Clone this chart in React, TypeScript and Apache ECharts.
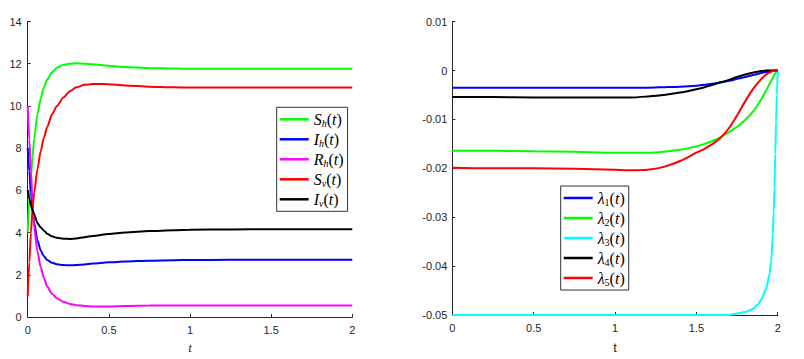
import React, { useEffect, useRef } from "react";
import * as echarts from "echarts";

// ---- Left panel: state variables ----
const tLeft = [0, 0.01, 0.02, 0.03, 0.04, 0.06, 0.08, 0.1, 0.12, 0.15, 0.18, 0.22, 0.26, 0.3, 0.35, 0.4, 0.5, 0.6, 0.75, 0.9, 1.0, 1.25, 1.5, 1.75, 2.0];
const Sh = [4, 5.6, 6.6, 7.6, 8.45, 9.6, 10.35, 10.9, 11.25, 11.6, 11.82, 11.95, 12.0, 12.02, 12.0, 11.97, 11.9, 11.84, 11.79, 11.77, 11.76, 11.76, 11.76, 11.76, 11.76];
const Ih = [8, 6.9, 5.9, 5.05, 4.45, 3.65, 3.15, 2.88, 2.7, 2.57, 2.5, 2.46, 2.45, 2.46, 2.49, 2.53, 2.59, 2.63, 2.67, 2.69, 2.7, 2.71, 2.71, 2.71, 2.71];
const Rh = [10, 8.4, 6.9, 5.4, 4.24, 3.1, 2.37, 1.85, 1.44, 1.1, 0.89, 0.72, 0.62, 0.56, 0.52, 0.5, 0.5, 0.52, 0.54, 0.55, 0.55, 0.55, 0.55, 0.55, 0.55];
const Sv = [1, 2.6, 4.0, 5.15, 5.9, 7.0, 7.85, 8.5, 9.0, 9.6, 10.0, 10.4, 10.7, 10.88, 11.0, 11.04, 11.03, 10.97, 10.91, 10.88, 10.87, 10.87, 10.87, 10.87, 10.87];
const Iv = [6, 5.6, 5.3, 5.05, 4.87, 4.45, 4.25, 4.09, 3.95, 3.82, 3.75, 3.71, 3.7, 3.72, 3.78, 3.84, 3.93, 4.0, 4.07, 4.11, 4.13, 4.15, 4.16, 4.16, 4.16];

// ---- Right panel: adjoint variables ----
const tRight = [0, 0.25, 0.5, 0.75, 1.0, 1.1, 1.2, 1.3, 1.4, 1.5, 1.55, 1.6, 1.65, 1.7, 1.75, 1.8, 1.85, 1.9, 1.93, 1.96, 1.98, 1.99, 2.0];
const L1 = [-0.0035, -0.0035, -0.0035, -0.0035, -0.0035, -0.0035, -0.0035, -0.0034, -0.0033, -0.0031, -0.0029, -0.0027, -0.0024, -0.0021, -0.0017, -0.0013, -0.0009, -0.0005, -0.0003, -0.0001, 0, 0, 0];
const L2 = [-0.0164, -0.0164, -0.0165, -0.0166, -0.0168, -0.0168, -0.0168, -0.0166, -0.0162, -0.0155, -0.015, -0.0144, -0.0136, -0.0126, -0.0115, -0.0101, -0.0083, -0.0058, -0.004, -0.0021, -0.0008, -0.0003, 0];
const L4 = [-0.0054, -0.0054, -0.0055, -0.0055, -0.0055, -0.0055, -0.0053, -0.005, -0.0045, -0.0038, -0.0034, -0.0029, -0.0024, -0.0019, -0.0013, -0.0008, -0.0004, -0.0001, 0, 0, 0, 0, 0];
const L5 = [-0.0199, -0.02, -0.02, -0.0201, -0.0203, -0.0204, -0.0203, -0.0197, -0.0185, -0.0168, -0.016, -0.015, -0.0137, -0.0118, -0.0092, -0.0063, -0.0037, -0.0017, -0.0008, -0.0002, 0, 0, 0];
const tCyan = [0, 0.5, 1.0, 1.5, 1.7, 1.75, 1.8, 1.85, 1.88, 1.9, 1.93, 1.95, 1.96, 1.97, 1.975, 1.98, 1.985, 1.99, 1.995, 2.0];
const L3 = [-0.05, -0.05, -0.05, -0.05, -0.05, -0.0497, -0.0494, -0.0487, -0.0478, -0.0468, -0.0445, -0.0415, -0.039, -0.0335, -0.029, -0.024, -0.017, -0.0105, -0.005, 0];

const zip = (t: number[], v: number[]) => t.map((x, i) => [x, v[i]]);

const legendLabels: Record<string, string> = {
  Sh: "{m|S}{s|h}{p|(}{m|t}{p|)}",
  Ih: "{m|I}{s|h}{p|(}{m|t}{p|)}",
  Rh: "{m|R}{s|h}{p|(}{m|t}{p|)}",
  Sv: "{m|S}{s|v}{p|(}{m|t}{p|)}",
  Iv: "{m|I}{s|v}{p|(}{m|t}{p|)}",
  L1: "{m|λ}{d|1}{p|(}{m|t}{p|)}",
  L2: "{m|λ}{d|2}{p|(}{m|t}{p|)}",
  L3: "{m|λ}{d|3}{p|(}{m|t}{p|)}",
  L4: "{m|λ}{d|4}{p|(}{m|t}{p|)}",
  L5: "{m|λ}{d|5}{p|(}{m|t}{p|)}",
};

const serif = "Liberation Serif, DejaVu Serif, serif";
const sans = "Liberation Sans, Arial, sans-serif";
const axisColor = "#262626";

const richText = {
  m: { fontFamily: serif, fontStyle: "italic", fontSize: 16, lineHeight: 18, color: "#000" },
  p: { fontFamily: serif, fontSize: 16, lineHeight: 18, color: "#000" },
  s: { fontFamily: serif, fontStyle: "italic", fontSize: 10, lineHeight: 18, verticalAlign: "bottom", padding: [6, 0, 0, 0], color: "#000" },
  d: { fontFamily: serif, fontSize: 10, lineHeight: 18, verticalAlign: "bottom", padding: [6, 0, 0, 0], color: "#000" },
};

function makeLegend(data: string[], left: number, top: number) {
  return {
    data,
    orient: "vertical",
    left,
    top,
    icon: "rect",
    itemWidth: 29,
    itemHeight: 2.5,
    itemGap: 2,
    padding: [3, 4, 3, 3],
    borderColor: "#333",
    borderWidth: 1,
    backgroundColor: "#fff",
    selectedMode: false,
    formatter: (name: string) => legendLabels[name],
    textStyle: { rich: richText, lineHeight: 18, fontFamily: serif },
  };
}

function axisCommon() {
  return {
    axisLine: { show: true, onZero: false, lineStyle: { color: axisColor, width: 1 } },
    axisTick: { show: true, inside: true, length: 3, lineStyle: { color: axisColor } },
    splitLine: { show: false },
  };
}

export default function App() {
  const ref = useRef<HTMLDivElement>(null);
  useEffect(() => {
    if (!ref.current) return;
    const chart = echarts.init(ref.current, undefined, { renderer: "svg" });
    const line = (name: string, data: number[][], color: string, xi: number, mono: boolean) => ({
      name,
      type: "line",
      xAxisIndex: xi,
      yAxisIndex: xi,
      data,
      showSymbol: false,
      symbol: "none",
      smooth: 0.25,
      ...(mono ? { smoothMonotone: "x" } : {}),
      lineStyle: { color, width: 2 },
      itemStyle: { color },
      emphasis: { disabled: true },
    });
    chart.setOption({
      animation: false,
      backgroundColor: "#fff",
      grid: [
        { left: 27.7, top: 21.5, width: 324.6, height: 299.2 },
        { left: 452.3, top: 21.7, width: 325.4, height: 299 },
      ],
      xAxis: [
        {
          ...axisCommon(),
          type: "value",
          gridIndex: 0,
          min: 0,
          max: 2,
          interval: 0.5,
          name: "t",
          nameLocation: "middle",
          nameGap: 24,
          nameTextStyle: { fontFamily: serif, fontStyle: "italic", fontSize: 13, color: axisColor },
          axisLabel: { color: axisColor, fontFamily: sans, fontSize: 11, margin: 7 },
        },
        {
          ...axisCommon(),
          type: "value",
          gridIndex: 1,
          min: 0,
          max: 2,
          interval: 0.5,
          name: "t",
          nameLocation: "middle",
          nameGap: 26,
          nameTextStyle: { fontFamily: sans, fontSize: 13, color: axisColor },
          axisLabel: { color: axisColor, fontFamily: sans, fontSize: 11, margin: 7 },
        },
      ],
      yAxis: [
        {
          ...axisCommon(),
          type: "value",
          gridIndex: 0,
          min: 0,
          max: 14,
          interval: 2,
          axisLabel: { color: axisColor, fontFamily: sans, fontSize: 11, margin: 6 },
        },
        {
          ...axisCommon(),
          type: "value",
          gridIndex: 1,
          min: -0.05,
          max: 0.01,
          interval: 0.01,
          axisLabel: {
            color: axisColor,
            fontFamily: sans,
            fontSize: 11,
            margin: 5,
            formatter: (v: number) => {
              const r = Math.round(v * 100) / 100;
              return r === 0 ? "0" : r.toFixed(2);
            },
          },
        },
      ],
      legend: [
        makeLegend(["Sh", "Ih", "Rh", "Sv", "Iv"], 276.7, 107.3),
        makeLegend(["L1", "L2", "L3", "L4", "L5"], 560.7, 186),
      ],
      series: [
        line("Sh", zip(tLeft, Sh), "#00ff00", 0, true),
        line("Ih", zip(tLeft, Ih), "#0000ff", 0, true),
        line("Rh", zip(tLeft, Rh), "#ff00ff", 0, true),
        line("Sv", zip(tLeft, Sv), "#ff0000", 0, true),
        line("Iv", zip(tLeft, Iv), "#000000", 0, true),
        line("L1", zip(tRight, L1), "#0000ff", 1, false),
        line("L2", zip(tRight, L2), "#00ff00", 1, false),
        line("L3", zip(tCyan, L3), "#00ffff", 1, true),
        line("L4", zip(tRight, L4), "#000000", 1, false),
        line("L5", zip(tRight, L5), "#ff0000", 1, false),
      ],
    });
    return () => chart.dispose();
  }, []);
  return (
    <div
      ref={ref}
      style={{ position: "fixed", left: 0, top: 0, width: 804, height: 359, background: "#fff" }}
    />
  );
}
